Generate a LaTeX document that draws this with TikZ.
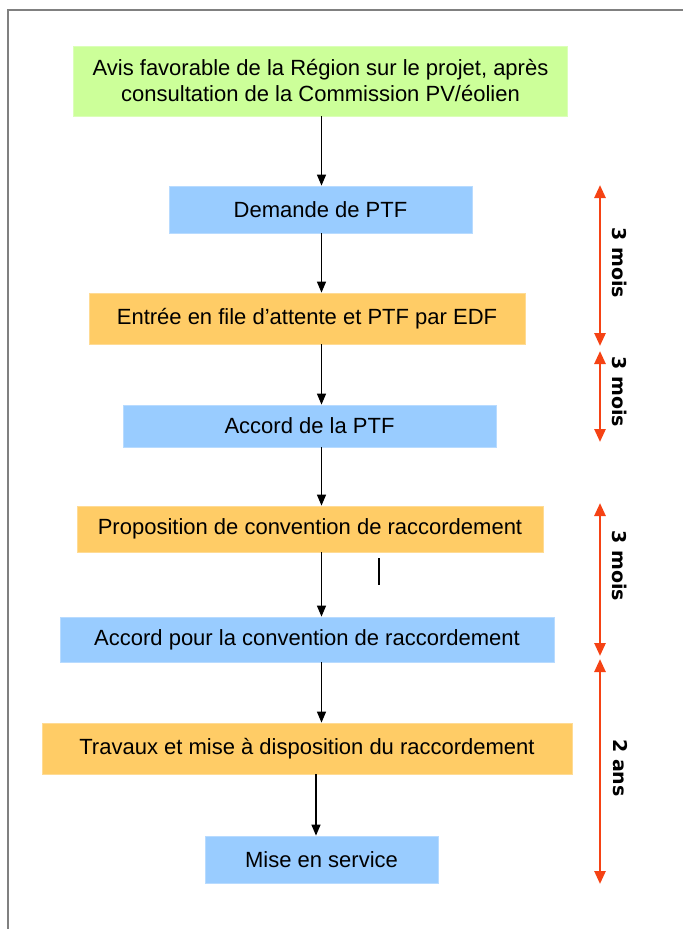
\documentclass[tikz,border=0pt]{standalone}
\usepackage{fontspec}
\setmainfont{Liberation Sans}
\newfontfamily\delayfont{DejaVu Sans}
\usetikzlibrary{arrows.meta}
\definecolor{stepgreen}{RGB}{204,255,153}
\definecolor{stepblue}{RGB}{153,204,255}
\definecolor{steporange}{RGB}{255,204,102}
\definecolor{delayred}{RGB}{245,66,20}
\definecolor{framegray}{RGB}{128,128,128}
\begin{document}
\begin{tikzpicture}[x=1pt,y=-1pt,
    stepbox/.style={inner sep=0pt,draw=#1!70!white,line width=0.8pt,fill=#1,
      font=\fontsize{22}{26}\selectfont,align=center},
    flow/.style={-{Triangle[length=11pt,width=9pt]},line width=1.3pt},
    delay/.style={{Triangle[length=13pt,width=11pt]}-{Triangle[length=13pt,width=11pt]},
      line width=2.6pt,delayred},
    delaytext/.style={rotate=-90,font=\delayfont\bfseries\fontsize{19}{22}\selectfont}]
  \useasboundingbox (0,0) rectangle (683,929);
  \draw[framegray,line width=2pt] (8,929) -- (8,10) -- (683,10);
  % steps
  \node[stepbox=stepgreen,minimum width=494pt,minimum height=70pt] (avis) at (320.5,81)
    {Avis favorable de la Région sur le projet, après\\consultation de la Commission PV/éolien};
  \node[stepbox=stepblue,minimum width=303pt,minimum height=47pt] (demande) at (320.5,209.5) {Demande de PTF};
  \node[stepbox=steporange,minimum width=436pt,minimum height=51pt] (entree) at (307,318.5) {Entrée en file d’attente et PTF par EDF};
  \node[stepbox=stepblue,minimum width=373pt,minimum height=42pt] (accordptf) at (309.5,426) {Accord de la PTF};
  \node[stepbox=steporange,minimum width=466pt,minimum height=46pt] (proposition) at (310,529) {Proposition de convention de raccordement};
  \node[stepbox=stepblue,minimum width=494pt,minimum height=45pt] (accordconv) at (307,639.5) {Accord pour la convention de raccordement};
  \node[stepbox=steporange,minimum width=530pt,minimum height=51pt] (travaux) at (307,748.5) {Travaux et mise à disposition du raccordement};
  \node[stepbox=stepblue,minimum width=233pt,minimum height=47pt] (service) at (321.5,859.5) {Mise en service};
  % arrows between steps
  \coordinate (spine) at (321.5,0);
  \coordinate (spinelow) at (316,0);
  \draw[flow] (avis.south -| spine) -- (demande.north -| spine);
  \draw[flow] (demande.south -| spine) -- (entree.north -| spine);
  \draw[flow] (entree.south -| spine) -- (accordptf.north -| spine);
  \draw[flow] (accordptf.south -| spine) -- (proposition.north -| spine);
  \draw[flow] (proposition.south -| spine) -- (accordconv.north -| spine);
  \draw[flow] (accordconv.south -| spine) -- (travaux.north -| spine);
  \draw[flow] (travaux.south -| spinelow) -- (service.north -| spinelow);
  \draw[line width=1.2pt] (379,558) -- (379,585);
  % delays
  \coordinate (d1top) at (600,185);
  \coordinate (d1bot) at (600,346);
  \coordinate (d2top) at (600,351);
  \coordinate (d2bot) at (600,442);
  \coordinate (d3top) at (600,503);
  \coordinate (d3bot) at (600,656);
  \coordinate (d4top) at (600,659);
  \coordinate (d4bot) at (600,884);
  \draw[delay] (d1top) -- (d1bot);
  \draw[delay] (d2top) -- (d2bot);
  \draw[delay] (d3top) -- (d3bot);
  \draw[delay] (d4top) -- (d4bot);
  \node[delaytext] (mois1) at (620,263) {3 mois};
  \node[delaytext] (mois2) at (620,392) {3 mois};
  \node[delaytext] (mois3) at (620,566) {3 mois};
  \node[delaytext] (ans) at (620,768) {2 ans};
\end{tikzpicture}
\end{document}
